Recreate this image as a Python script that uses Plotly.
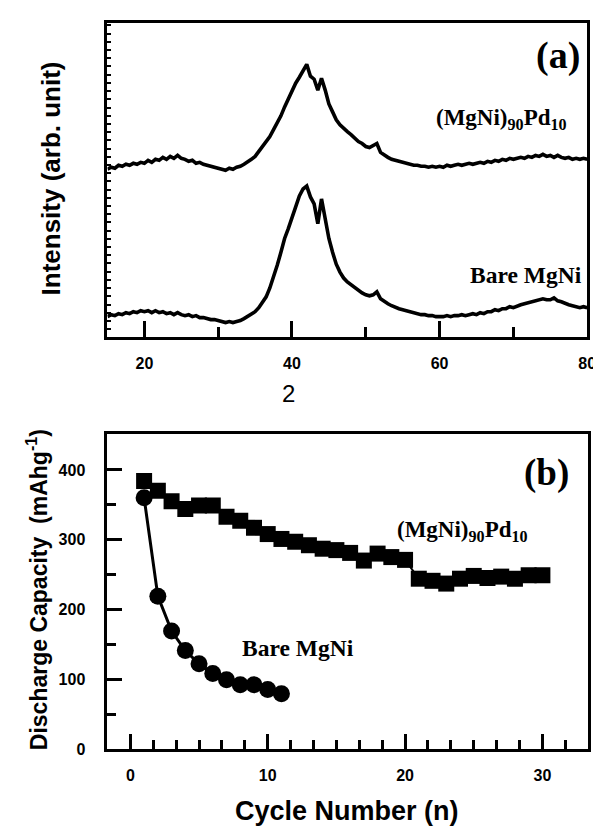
import numpy as np
import plotly.graph_objects as go

# ---------------- data ----------------
# XRD (panel a): 2-theta grid 15..80 step 0.5, intensities in arbitrary units
two_theta = np.arange(15.0, 80.01, 0.5)

pd_intensity = [170, 172, 171, 174, 173, 175, 174, 176, 175, 177, 176, 179, 177, 180, 179, 182, 180, 183, 181, 184,
                181, 180, 178, 179, 176, 177, 175, 174, 173, 172, 171, 170, 169, 171, 170, 172, 173, 175, 177, 180,
                183, 188, 193, 198, 203, 210, 217, 224, 233, 241, 250, 257, 263, 270, 276, 264, 261, 250, 262, 250,
                236, 228, 220, 215, 211, 208, 205, 201, 198, 196, 193, 192, 194, 196, 187, 184, 182, 180, 179, 178,
                177, 176, 175, 174, 174, 173, 173, 172, 173, 172, 173, 172, 174, 173, 174, 175, 174, 175, 176, 175,
                176, 177, 176, 178, 177, 179, 178, 180, 179, 181, 180, 181, 182, 181, 183, 182, 184, 183, 185, 183,
                184, 182, 184, 182, 181, 182, 180, 181, 180, 181, 180]

bare_intensity = [21, 23, 22, 24, 23, 25, 24, 26, 25, 27, 26, 27, 25, 27, 25, 26, 24, 25, 23, 25,
                  23, 22, 23, 21, 22, 20, 20, 19, 18, 18, 17, 16, 15, 16, 15, 16, 17, 19, 21, 23,
                  26, 30, 35, 41, 50, 61, 73, 86, 100, 110, 120, 132, 143, 150, 153, 142, 135, 115, 140, 118,
                  100, 86, 74, 66, 60, 56, 53, 50, 47, 45, 43, 42, 43, 46, 39, 36, 34, 32, 30, 29,
                  28, 27, 26, 25, 24, 23, 23, 22, 22, 21, 21, 21, 22, 21, 22, 22, 23, 22, 23, 24,
                  23, 25, 24, 26, 26, 28, 27, 29, 29, 31, 30, 32, 33, 34, 35, 36, 37, 38, 39, 38,
                  38, 40, 37, 36, 34, 33, 32, 31, 30, 31, 30]

# Cycling (panel b)
cycles_pd = list(range(1, 31))
capacity_pd = [384, 370, 355, 344, 349, 349, 333, 327, 317, 308, 301, 297, 292, 287, 285, 281, 270, 280, 275, 271,
               244, 241, 237, 244, 248, 245, 247, 244, 249, 249]
cycles_bare = list(range(1, 12))
capacity_bare = [360, 219, 169, 141, 122, 108, 99, 92, 92, 85, 79]

# dense unlabeled ticks on the intensity axis
intensity_tickvals = list(np.arange(8.3, 318, 8.3))

W, H = 601, 831
def px(x):
    return x / W
def py(y):
    return 1 - y / H

SANS = "Liberation Sans"
SERIF = "Liberation Serif"

fig = go.Figure()

fig.add_trace(go.Scatter(x=two_theta, y=pd_intensity, mode="lines",
                         line=dict(color="black", width=3.6), xaxis="x", yaxis="y", showlegend=False))
fig.add_trace(go.Scatter(x=two_theta, y=bare_intensity, mode="lines",
                         line=dict(color="black", width=3.6), xaxis="x", yaxis="y", showlegend=False))

fig.add_trace(go.Scatter(x=cycles_pd, y=capacity_pd, mode="lines+markers",
                         line=dict(color="black", width=2),
                         marker=dict(symbol="square", size=16, color="black"),
                         xaxis="x2", yaxis="y2", showlegend=False))
fig.add_trace(go.Scatter(x=cycles_bare, y=capacity_bare, mode="lines+markers",
                         line=dict(color="black", width=3),
                         marker=dict(symbol="circle", size=17, color="black"),
                         xaxis="x2", yaxis="y2", showlegend=False))

axis_common = dict(showline=True, linecolor="black", linewidth=3, mirror=True,
                   showgrid=False, zeroline=False, ticks="inside", tickcolor="black")

fig.update_layout(
    width=W, height=H,
    margin=dict(l=0, r=0, t=0, b=0),
    paper_bgcolor="white", plot_bgcolor="white",
    xaxis=dict(**axis_common, domain=[px(101), px(588)], anchor="y",
               range=[15, 80], tick0=0, dtick=20, ticklen=16, tickwidth=2.5,
               minor=dict(ticks="inside", dtick=10, ticklen=10, tickwidth=2.5, tickcolor="black"),
               tickfont=dict(family=SANS, size=16, color="black", weight="bold"),
               ticklabelstandoff=9),
    yaxis=dict(**axis_common, domain=[py(333), py(15)], anchor="x",
               range=[0, 318], tickmode="array", tickvals=intensity_tickvals,
               ticklen=4, tickwidth=2, showticklabels=False),
    xaxis2=dict(**axis_common, domain=[px(101), px(589)], anchor="y2",
                range=[-5/3, 100/3], tick0=0, dtick=10, ticklen=15, tickwidth=2.5,
                minor=dict(ticks="inside", dtick=10/6, ticklen=9, tickwidth=2.5, tickcolor="black"),
                tickfont=dict(family=SANS, size=16, color="black", weight="bold"),
                ticklabelstandoff=10),
    yaxis2=dict(**axis_common, domain=[py(749), py(431)], anchor="x2",
                range=[0, 451], tick0=0, dtick=100, ticklen=15, tickwidth=2.5,
                minor=dict(ticks="inside", dtick=50, ticklen=9, tickwidth=2.5, tickcolor="black"),
                tickfont=dict(family=SANS, size=16, color="black", weight="bold"),
                ticklabelstandoff=16),
)

def ann(text, x, y, family, size, bold=True, angle=0, xanchor="center"):
    fig.add_annotation(text=text, x=px(x), y=py(y), xref="paper", yref="paper",
                       showarrow=False, xanchor=xanchor, yanchor="middle", textangle=angle,
                       font=dict(family=family, size=size, color="black",
                                 weight="bold" if bold else "normal"))

# panel a texts
ann("(a)", 558, 48, SERIF, 38)
ann("(MgNi)<sub>90</sub>Pd<sub>10</sub>", 501, 112, SERIF, 23)
ann("Bare MgNi", 526, 270, SERIF, 23.5)
ann("Intensity (arb. unit)", 44, 172, SANS, 26, angle=-90)
ann("2", 285, 390, SANS, 24, bold=False)

# panel b texts
ann("(b)", 547, 470, SERIF, 37)
ann("(MgNi)<sub>90</sub>Pd<sub>10</sub>", 461, 529, SERIF, 23)
ann("Bare MgNi", 294, 647, SERIF, 23.5)
ann("Discharge Capacity  (mAhg<sup>-1</sup>)", 29, 588, SANS, 23, angle=-90)
ann("Cycle Number (n)", 344, 812, SANS, 27)

fig.write_html("out.html")
